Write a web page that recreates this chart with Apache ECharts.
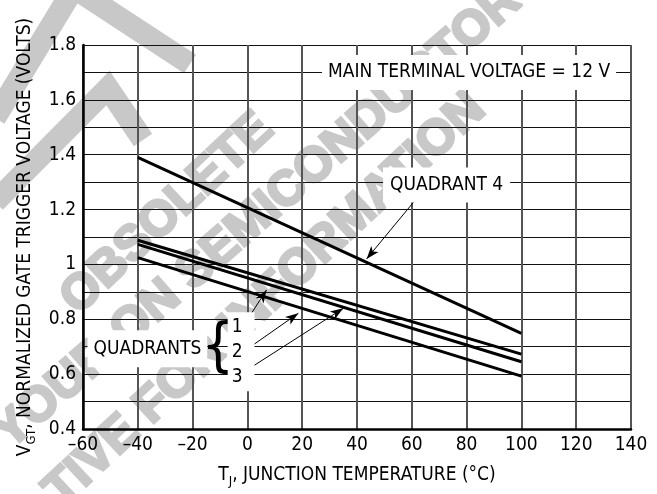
<!DOCTYPE html>
<html><head><meta charset="utf-8">
<script src="https://cdn.jsdelivr.net/npm/echarts/dist/echarts.min.js"></script>
<style>html,body{margin:0;padding:0;background:#fff}#c{width:657px;height:494px}</style>
</head><body><div id="c"></div>
<script>
// ---- data ----
const temps = [-40, 100];
const quadrant4 = [1.39, 0.749];
const quadrantA = [1.088, 0.673];
const quadrantB = [1.073, 0.645];
const quadrantC = [1.025, 0.593];
const xTicks = [-60, -40, -20, 0, 20, 40, 60, 80, 100, 120, 140];
const yTicks = [0.4, 0.6, 0.8, 1.0, 1.2, 1.4, 1.6, 1.8];

// annotation anchors in data units
const noteMain = [80.9, 1.70];
const noteQ4 = [72.7, 1.29];
const noteQuadrants = [-36.5, 0.693];
const noteBrace = [-10.7, 0.688];
const noteNums = [-2.3, 0.682];
const arrowQ4 = [[61.8, 1.241], [43.5, 1.02]];
const arrow1 = [[-0.9, 0.785], [7.0, 0.907]];
const arrow2 = [[0.3, 0.694], [18.6, 0.822]];
const arrow3 = [[0.3, 0.618], [35, 0.84]];

const FONT = "'DejaVu Sans Condensed', 'Liberation Sans Narrow', 'Roboto', sans-serif";
const FS = 19;
const WM = '#c8c8c8';
const WMFONT = "bold 49px 'Liberation Sans', Arial, sans-serif";
const deg = Math.PI / 180;

function pairs(ys) { return temps.map((t, i) => [t, ys[i]]); }
function lineSeries(ys, extra) {
  return Object.assign({
    type: 'line', data: pairs(ys), symbol: 'none', silent: true,
    lineStyle: { color: '#000', width: 3, cap: 'butt' }, z: 3
  }, extra || {});
}
function note(coord, text, pad, extra) {
  return {
    coord: coord, symbol: 'rect', symbolSize: 0,
    label: Object.assign({
      show: true, position: 'inside', formatter: text, color: '#000',
      fontFamily: FONT, fontSize: FS, backgroundColor: '#fff', padding: pad
    }, extra || {})
  };
}
function arrow(a) { return [{ coord: a[0] }, { coord: a[1] }]; }
const richName = {
  n: { fontFamily: FONT, fontSize: FS, color: '#000', lineHeight: 19, verticalAlign: 'top' },
  s: { fontFamily: FONT, fontSize: 13, color: '#000', lineHeight: 13, padding: [9, 0, 0, 0], verticalAlign: 'top' }
};
function wmText(text, x, y, rot) {
  return { type: 'text', z: -10, silent: true, x: x, y: y, rotation: rot * deg,
    style: { text: text, fill: WM, stroke: WM, lineWidth: 3, font: WMFONT, align: 'right', verticalAlign: 'middle' } };
}

const chart = echarts.init(document.getElementById('c'), null, { renderer: 'canvas' });
chart.setOption({
  backgroundColor: '#fff',
  animation: false,
  grid: { left: 83, right: 26, top: 45, bottom: 65 },
  xAxis: {
    type: 'value', min: xTicks[0], max: xTicks[xTicks.length - 1], interval: 20,
    axisLine: { show: true, onZero: false, lineStyle: { color: '#000', width: 2.5 } },
    axisTick: { show: false },
    axisLabel: {
      color: '#000', fontFamily: FONT, fontSize: FS, margin: 7,
      formatter: v => (v < 0 ? '\u2013' + Math.abs(v) : String(v))
    },
    splitLine: { show: true, lineStyle: { color: '#555', width: 2 } },
    name: '{n|T}{s|J}{n|, JUNCTION TEMPERATURE (°C)}',
    nameLocation: 'middle', nameGap: 37,
    nameTextStyle: { rich: richName }
  },
  yAxis: {
    type: 'value', min: yTicks[0], max: yTicks[yTicks.length - 1], interval: 0.2,
    axisLine: { show: true, onZero: false, lineStyle: { color: '#000', width: 2.5 } },
    axisTick: { show: false },
    minorTick: { show: false, splitNumber: 2 },
    minorSplitLine: { show: true, lineStyle: { color: '#111', width: 1 } },
    axisLabel: {
      color: '#000', fontFamily: FONT, fontSize: FS, margin: 7,
      formatter: v => String(Math.round(v * 10) / 10)
    },
    splitLine: { show: true, lineStyle: { color: '#111', width: 1 } },
    name: '{n|V}{s|GT}{n|, NORMALIZED GATE TRIGGER VOLTAGE (VOLTS)}',
    nameLocation: 'middle', nameGap: 42,
    nameTextStyle: { rich: richName }
  },
  graphic: {
    elements: [
      { type: 'polyline', z: -10, silent: true, shape: { points: [[-5, 118], [74, -12], [190, 64]] },
        style: { stroke: WM, lineWidth: 22, fill: null, lineJoin: 'miter' } },
      { type: 'polyline', z: -10, silent: true, shape: { points: [[-5, 202], [108, 88], [143, 140]] },
        style: { stroke: WM, lineWidth: 22, fill: null, lineJoin: 'miter' } },
      wmText('OBSOLETE', 266, 122, 43),
      wmText('YOUR ON SEMICONDUCTOR', 514, -6, 41),
      wmText('TIVE FOR INFORMATION', 478, 102, 43)
    ]
  },
  series: [
    lineSeries(quadrant4, {
      markPoint: {
        silent: true, animation: false,
        data: [
          note(noteMain, 'MAIN TERMINAL VOLTAGE = 12 V', [8, 6]),
          note(noteQ4, 'QUADRANT 4', [8, 7]),
          note(noteQuadrants, 'QUADRANTS', [9, 6]),
          note(noteBrace, '{', 0, { backgroundColor: 'transparent', fontSize: 58 }),
          note(noteNums, '1\n2\n3', [2, 12, 2, 4], { lineHeight: 25 })
        ]
      },
      markLine: {
        silent: true, animation: false, symbol: ['none', 'arrow'], symbolSize: [7, 13],
        label: { show: false },
        lineStyle: { color: '#000', width: 1, type: 'solid' },
        data: [arrow(arrowQ4), arrow(arrow1), arrow(arrow2), arrow(arrow3)]
      }
    }),
    lineSeries(quadrantA),
    lineSeries(quadrantB),
    lineSeries(quadrantC)
  ]
});
</script>
</body></html>
